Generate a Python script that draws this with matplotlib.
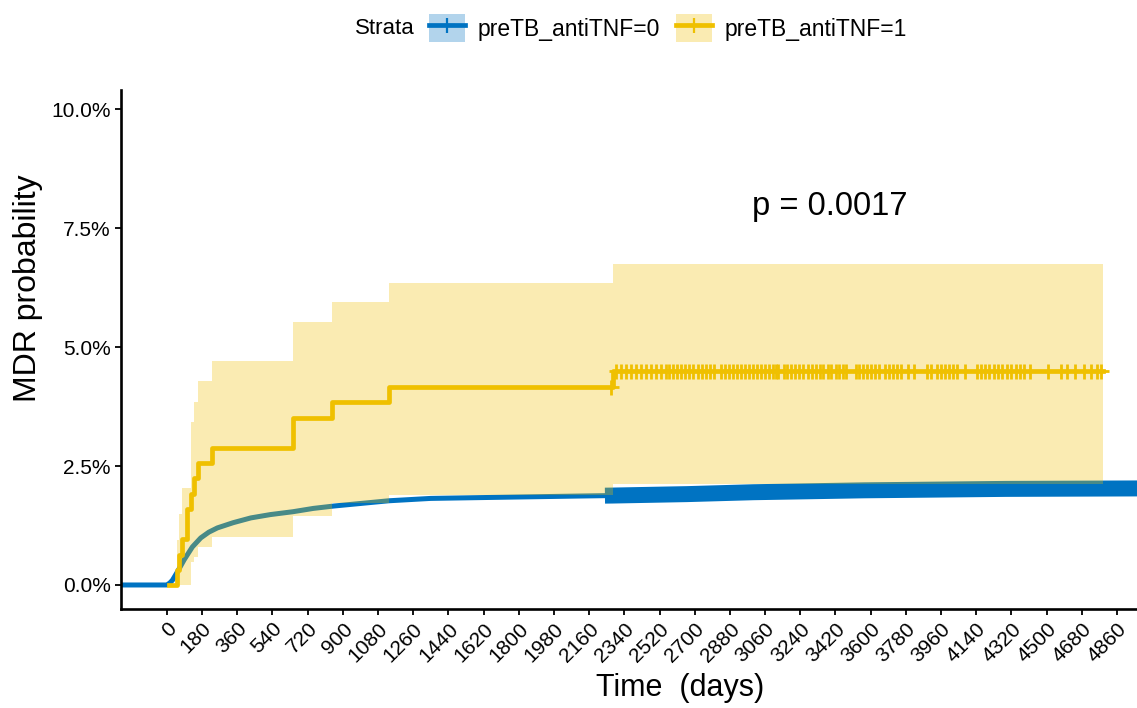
import matplotlib
matplotlib.use("Agg")
import matplotlib.pyplot as plt
from matplotlib.patches import Patch
from matplotlib.lines import Line2D

plt.rcParams['font.family'] = ['Liberation Sans', 'DejaVu Sans']

# colores (paleta jco)
azul = '#0073C2'
amarillo = '#EFC000'

# grupo preTB_antiTNF=0 : curva casi continua (muchos eventos)
t_azul = [-240, 0, 15, 29, 55, 89, 131, 174, 215, 259, 340, 430, 530, 645,
          750, 855, 1135, 1350, 1800, 2113, 2280, 2660, 3000, 3567, 4292, 4980]
p_azul = [0, 0, 0.04, 0.10, 0.28, 0.53, 0.80, 0.99, 1.11, 1.20, 1.31, 1.41,
          1.48, 1.54, 1.61, 1.66, 1.77, 1.82, 1.85, 1.87, 1.88, 1.91, 1.95,
          1.99, 2.02, 2.03]
inicio_censura_azul = 2241

# grupo preTB_antiTNF=1 : escalones
t_amar = [10, 50, 63, 80, 106, 123, 140, 160, 229, 648, 847, 1137, 2281, 4790]
p_amar = [0, 0.32, 0.64, 0.96, 1.60, 1.92, 2.24, 2.56, 2.88, 3.52, 3.84, 4.16, 4.50, 4.50]
sup_amar = [0, 0.95, 1.50, 2.04, 2.04, 3.42, 3.84, 4.28, 4.70, 5.53, 5.94, 6.34, 6.75, 6.75]
inf_amar = [0, 0, 0, 0, 0, 0.49, 0.58, 0.80, 1.00, 1.45, 1.72, 1.90, 2.13, 2.13]

# censuras del grupo 1
cens_antes = [2270]
cens_amar = [2296, 2322, 2347, 2373, 2398, 2424, 2450, 2475, 2501, 2526, 2552,
             2567, 2588, 2608, 2629, 2649, 2670, 2690, 2716, 2736, 2756, 2777,
             2797, 2833, 2854, 2874, 2895, 2915, 2935, 2955, 2976, 2997, 3017,
             3038, 3058, 3079, 3099, 3114, 3125, 3155, 3171, 3191, 3212, 3232,
             3253, 3278, 3299, 3319, 3339, 3355, 3380, 3396, 3421, 3437, 3457,
             3472, 3524, 3539, 3559, 3580, 3600, 3621, 3641, 3672, 3692, 3713,
             3733, 3754, 3789, 3820, 3887, 3907, 3938, 3958, 3979, 3999, 4020,
             4040, 4081, 4142, 4163, 4183, 4204, 4229, 4250, 4270, 4296, 4316,
             4342, 4362, 4383, 4413, 4505, 4572, 4603, 4643, 4689, 4725, 4756, 4776]

xticks = list(range(0, 4861, 180))
yticks = [0, 2.5, 5, 7.5, 10]
ytick_labels = ['0.0%', '2.5%', '5.0%', '7.5%', '10.0%']
p_valor = 'p = 0.0017'

fig = plt.figure(figsize=(11.37, 7.08), dpi=100)
ax = fig.add_axes([121/1137, 1-609/708, 1-121/1137, (609-90)/708])

# curva azul
ax.plot(t_azul, p_azul, color=azul, lw=3.6, zorder=2, solid_capstyle='butt')
# zona de censuras azul (marcas + tan densas que forman una banda)
t_c = [t for t in t_azul if t >= inicio_censura_azul]
p_c = [p for t, p in zip(t_azul, p_azul) if t >= inicio_censura_azul]
p_ini = p_azul[t_azul.index(2113)] + (p_azul[t_azul.index(2280)] - p_azul[t_azul.index(2113)]) * 0.8
ax.plot([inicio_censura_azul] + t_c, [p_ini] + p_c, color=azul, lw=11.5,
        solid_capstyle='butt', zorder=2)

# intervalo de confianza amarillo
ax.fill_between(t_amar, inf_amar, sup_amar, step='post', color=amarillo,
                alpha=0.3, lw=0, zorder=3)
ax.plot(t_amar, p_amar, drawstyle='steps-post', color=amarillo, lw=3.4, zorder=4)
ax.plot(cens_antes, [p_amar[11]] * len(cens_antes), ls='none', marker='+',
        ms=10.8, mew=2.0, color=amarillo, zorder=5)
ax.plot(cens_amar, [p_amar[12]] * len(cens_amar), ls='none', marker='+',
        ms=10.8, mew=2.0, color=amarillo, zorder=5)

ax.text(3392, 7.95, p_valor, fontsize=23.5, ha='center', va='center')

ax.set_xlim(-234, 4962)
ax.set_ylim(-0.505, 10.406)
ax.set_xticks(xticks)
ax.set_xticklabels([str(x) for x in xticks], rotation=45, ha='right',
                   va='top', rotation_mode='anchor', fontsize=15)
ax.set_yticks(yticks)
ax.set_yticklabels(ytick_labels, fontsize=15)
ax.tick_params(length=4.3, width=1.3, color='black', pad=3)
for s in ['top', 'right']:
    ax.spines[s].set_visible(False)
for s in ['left', 'bottom']:
    ax.spines[s].set_linewidth(1.9)

ax.set_ylabel('MDR probability', fontsize=23, va='center')
ax.yaxis.set_label_coords(-0.0915, 0.618)
ax.set_xlabel('Time  (days)', fontsize=22, va='center')
ax.xaxis.set_label_coords(0.55, -0.152)

# leyenda
h0 = (Patch(facecolor=azul, alpha=0.3, lw=0),
      Line2D([], [], color=azul, lw=3.4, marker='+', ms=10.8, mew=1.6))
h1 = (Patch(facecolor=amarillo, alpha=0.3, lw=0),
      Line2D([], [], color=amarillo, lw=3.4, marker='+', ms=10.8, mew=1.6))
fig.text(355/1137, 1-28/708, 'Strata', fontsize=16, ha='left', va='center')
fig.legend([h0, h1], ['preTB_antiTNF=0', 'preTB_antiTNF=1'], ncol=2,
           loc='center', bbox_to_anchor=(668/1137, 1-28/708), frameon=False,
           fontsize=16.5, handlelength=1.55, handleheight=1.5,
           handletextpad=0.55, columnspacing=0.7, borderpad=0)

fig.savefig('out.png', dpi=100)
